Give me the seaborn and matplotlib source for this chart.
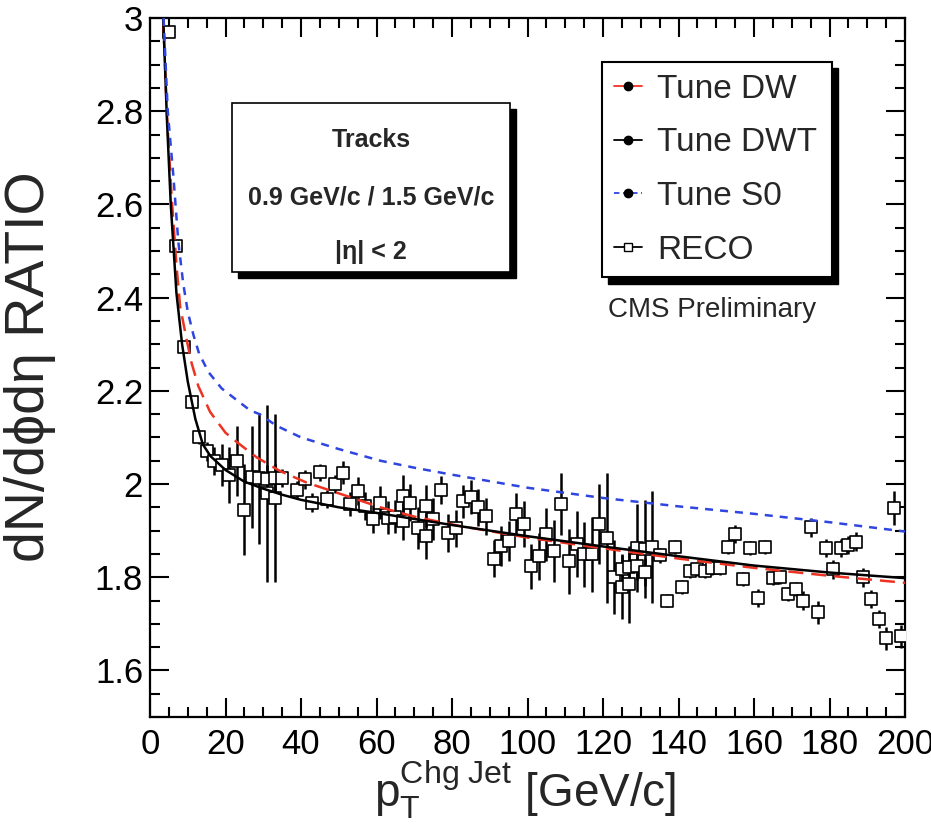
import matplotlib
matplotlib.use("Agg")
import matplotlib.pyplot as plt
import numpy as np
import pandas as pd
import seaborn as sns
from matplotlib.lines import Line2D
from matplotlib.patches import Rectangle
from matplotlib.ticker import MultipleLocator, FuncFormatter

# ---------------- data ----------------
reco_pt = [5, 7, 9, 11, 13, 15, 17, 19, 21, 23, 25, 27, 29, 31, 31, 33, 33, 35,
           39, 41, 43, 45, 47, 49, 51, 53, 55, 57, 59, 61, 63, 65, 67, 67, 69, 71,
           73, 73, 75, 77, 79, 81, 83, 85, 87, 89, 91, 93, 95, 97, 99, 101, 103,
           105, 107, 109, 111, 113, 115, 117, 119, 121, 123, 125, 125, 127, 127,
           129, 129, 131, 131, 133, 135, 137, 139, 141, 143, 145, 147, 149, 151,
           153, 155, 157, 159, 161, 163, 165, 167, 169, 171, 173, 175, 177, 179,
           181, 183, 185, 187, 189, 191, 193, 195, 197, 199]
reco_ratio = [2.97, 2.51, 2.295, 2.175, 2.10, 2.07, 2.05, 2.04, 2.02, 2.05, 1.945,
              2.015, 2.012, 1.98, 2.01, 1.97, 2.013, 2.013,
              1.987, 2.01, 1.96, 2.025, 1.968, 2.0, 2.024, 1.957, 1.985, 1.953,
              1.925, 1.96, 1.928, 1.93, 1.974, 1.92, 1.96, 1.905,
              1.953, 1.888, 1.925, 1.987, 1.895, 1.905, 1.963, 1.972, 1.95, 1.931,
              1.84, 1.867, 1.877, 1.935, 1.914, 1.823, 1.845,
              1.892, 1.856, 1.957, 1.834, 1.871, 1.849, 1.849, 1.914, 1.884, 1.80,
              1.78, 1.817, 1.785, 1.822,
              1.863, 1.825, 1.86, 1.812, 1.865, 1.847, 1.75, 1.864, 1.78, 1.813,
              1.817, 1.813, 1.82, 1.82,
              1.864, 1.893, 1.796, 1.863, 1.755, 1.864, 1.798, 1.80, 1.763, 1.774,
              1.75, 1.907, 1.725, 1.863,
              1.817, 1.863, 1.869, 1.876, 1.80, 1.753, 1.71, 1.669, 1.949, 1.673]
reco_err = [0.01, 0.01, 0.01, 0.012, 0.015, 0.02, 0.03, 0.045, 0.06, 0.075, 0.097,
            0.11, 0.14, 0.19, 0.03, 0.18, 0.03, 0.02,
            0.02, 0.02, 0.02, 0.018, 0.02, 0.02, 0.025, 0.025, 0.03, 0.03,
            0.03, 0.035, 0.035, 0.035, 0.045, 0.04, 0.04, 0.045,
            0.045, 0.05, 0.045, 0.03, 0.04, 0.04, 0.035, 0.037, 0.04, 0.04,
            0.04, 0.043, 0.043, 0.045, 0.05, 0.048, 0.05,
            0.057, 0.066, 0.067, 0.07, 0.07, 0.07, 0.08, 0.085, 0.14, 0.08,
            0.07, 0.03, 0.083, 0.03,
            0.095, 0.03, 0.105, 0.03, 0.12, 0.016, 0.015, 0.015, 0.015, 0.015,
            0.015, 0.015, 0.015, 0.015,
            0.015, 0.02, 0.015, 0.015, 0.02, 0.015, 0.015, 0.015, 0.015, 0.015,
            0.02, 0.02, 0.025, 0.02,
            0.02, 0.02, 0.02, 0.02, 0.02, 0.02, 0.02, 0.025, 0.037, 0.025]

dwt_pt = [3.5, 4.5, 5.5, 7, 8.5, 10, 12, 14, 16, 18, 20, 25, 30, 35, 40, 50, 60,
          70, 80, 100, 120, 140, 160, 180, 200]
dwt_ratio = [3.0, 2.78, 2.60, 2.41, 2.30, 2.22, 2.14, 2.085, 2.06, 2.045, 2.03,
             2.005, 1.99, 1.977, 1.966, 1.95, 1.938, 1.925, 1.912, 1.888, 1.866,
             1.845, 1.825, 1.81, 1.798]

dw_pt = [3.5, 4.5, 5.7, 7, 8, 9.7, 11, 12.8, 14.5, 15.9, 17.7, 20, 23, 28.3, 34.4,
         41.5, 50, 61, 70, 82, 100, 120, 140, 160, 180, 200]
dw_ratio = [3.0, 2.79, 2.62, 2.47, 2.38, 2.31, 2.26, 2.21, 2.18, 2.155, 2.135,
            2.11, 2.09, 2.057, 2.028, 2.003, 1.98, 1.95, 1.93, 1.91, 1.885, 1.862,
            1.84, 1.82, 1.803, 1.788]

s0_pt = [3.6, 4.7, 6.2, 7.5, 8.8, 10, 11.5, 13, 15.5, 19, 23, 26.5, 29, 33.5, 40,
         50, 61, 70, 80, 100, 120, 140, 160, 180, 200]
s0_ratio = [3.0, 2.8, 2.66, 2.52, 2.43, 2.37, 2.32, 2.28, 2.24, 2.205, 2.18, 2.158,
            2.15, 2.125, 2.10, 2.075, 2.05, 2.035, 2.02, 1.992, 1.97, 1.952,
            1.936, 1.918, 1.898]

tune_names = ["Tune DW", "Tune DWT", "Tune S0"]
tune_colors = ["#ee3322", "black", "#2f45e0"]
x_ticks = [0, 20, 40, 60, 80, 100, 120, 140, 160, 180, 200]
y_ticks = [1.6, 1.8, 2.0, 2.2, 2.4, 2.6, 2.8, 3.0]

# ---------------- styling ----------------
sns.set_style("ticks")
plt.rcParams["font.family"] = ["Liberation Sans", "DejaVu Sans"]
plt.rcParams["mathtext.fontset"] = "custom"
plt.rcParams["mathtext.rm"] = "Liberation Sans"
plt.rcParams["mathtext.it"] = "Liberation Sans:italic"
plt.rcParams["mathtext.bf"] = "Liberation Sans:bold"

fig = plt.figure(figsize=(9.31, 8.25), dpi=100)
ax = fig.add_axes([150 / 931, 1 - 717 / 825, 755 / 931, 699 / 825])

# RECO points
ax.errorbar(reco_pt, reco_ratio, yerr=reco_err, fmt="none", ecolor="black",
            elinewidth=1.8, capsize=0, zorder=2)
reco_df = pd.DataFrame({"pt": reco_pt, "ratio": reco_ratio})
sns.scatterplot(data=reco_df, x="pt", y="ratio", ax=ax, marker="s", s=68,
                facecolor="white", edgecolor="black", linewidth=1.2, zorder=3,
                legend=False)

# tune curves
curves = pd.concat([
    pd.DataFrame({"pt": dw_pt, "ratio": dw_ratio, "tune": tune_names[0]}),
    pd.DataFrame({"pt": dwt_pt, "ratio": dwt_ratio, "tune": tune_names[1]}),
    pd.DataFrame({"pt": s0_pt, "ratio": s0_ratio, "tune": tune_names[2]}),
])
sns.lineplot(data=curves, x="pt", y="ratio", hue="tune", style="tune",
             hue_order=tune_names, style_order=tune_names,
             palette=dict(zip(tune_names, tune_colors)),
             dashes={"Tune DW": (6, 3.2), "Tune DWT": "", "Tune S0": (3.2, 2.8)},
             sort=False, estimator=None, linewidth=1.8, ax=ax, legend=False,
             zorder=4)

ax.set_xlim(0, 200)
ax.set_ylim(1.5, 3.0)
ax.set_xlabel("")
ax.set_ylabel("")
ax.xaxis.set_minor_locator(MultipleLocator(5))
ax.yaxis.set_minor_locator(MultipleLocator(0.05))
ax.set_xticks(x_ticks)
ax.set_yticks(y_ticks)
fmt = FuncFormatter(lambda v, p: f"{v:g}")
ax.xaxis.set_major_formatter(fmt)
ax.yaxis.set_major_formatter(fmt)
ax.tick_params(which="both", direction="in", top=True, right=True, width=1.5,
               labelsize=25, colors="black")
ax.tick_params(which="major", length=14)
ax.tick_params(which="minor", length=7)
ax.tick_params(axis="x", pad=8)
ax.tick_params(axis="y", pad=5)
for sp in ax.spines.values():
    sp.set_linewidth(1.6)
    sp.set_color("black")
    sp.set_visible(True)

# axis titles
fig.text(30 / 931, 1 - 367 / 825, "dN/dϕdη RATIO", rotation=90, ha="center",
         va="center", fontsize=40)
fig.text(525 / 931, 1 - 790 / 825,
         r"$\mathrm{p}_{\mathrm{T}}^{\mathrm{Chg\ Jet}}$ [GeV/c]",
         ha="center", va="center", fontsize=33)

# text box (TPaveText style)
bx0, bx1, by0, by1 = 0.1086, 0.477, 0.637, 0.878
sh = 0.008
ax.add_patch(Rectangle((bx0 + sh, by0 - sh * 1.1), bx1 - bx0, by1 - by0,
                       transform=ax.transAxes, facecolor="black",
                       edgecolor="black", zorder=5, clip_on=False))
ax.add_patch(Rectangle((bx0, by0), bx1 - bx0, by1 - by0, transform=ax.transAxes,
                       facecolor="white", edgecolor="black", linewidth=1.2,
                       zorder=6, clip_on=False))
cx = (bx0 + bx1) / 2
ax.text(cx, 0.825, "Tracks", transform=ax.transAxes, ha="center", va="center",
        fontsize=18, fontweight="bold", zorder=7)
ax.text(cx, 0.7425, "0.9 GeV/c / 1.5 GeV/c", transform=ax.transAxes,
        ha="center", va="center", fontsize=18, fontweight="bold", zorder=7)
ax.text(cx, 0.665, "|η| < 2", transform=ax.transAxes, ha="center",
        va="center", fontsize=18, fontweight="bold", zorder=7)

# legend
handles = [
    Line2D([], [], color=tune_colors[0], lw=1.3, marker="o", markersize=6,
           markerfacecolor="black", markeredgecolor="black"),
    Line2D([], [], color=tune_colors[1], lw=1.3, marker="o", markersize=6,
           markerfacecolor="black", markeredgecolor="black"),
    Line2D([], [], color=tune_colors[2], lw=1.3, ls=(0, (3, 2)), marker="o",
           markersize=6, markerfacecolor="black", markeredgecolor="black"),
    Line2D([], [], color="black", lw=1.3, marker="s", markersize=6,
           markerfacecolor="white", markeredgecolor="black"),
]
labels = tune_names + ["RECO"]
leg = ax.legend(handles, labels, loc="upper left",
                bbox_to_anchor=(0.599, 0.632, 0.304, 0.305), mode="expand",
                borderaxespad=0, frameon=True, fancybox=False, framealpha=1,
                edgecolor="black", facecolor="white", fontsize=24,
                handlelength=0.85, handletextpad=0.45, labelspacing=0.68,
                borderpad=0.35)
leg.get_frame().set_linewidth(1.5)
leg.set_zorder(10)

fig.canvas.draw()
bb = leg.get_frame().get_window_extent(fig.canvas.get_renderer())
inv = ax.transAxes.inverted()
(lx0, ly0), (lx1, ly1) = inv.transform([[bb.x0, bb.y0], [bb.x1, bb.y1]])
ax.add_patch(Rectangle((lx0 + 0.008, ly0 - 0.009), lx1 - lx0, ly1 - ly0,
                       transform=ax.transAxes, facecolor="black",
                       edgecolor="black", zorder=9, clip_on=False))

ax.text(0.744, 0.582, "CMS Preliminary", transform=ax.transAxes, ha="center",
        va="center", fontsize=20, zorder=7)

fig.savefig("out.png", dpi=100)
